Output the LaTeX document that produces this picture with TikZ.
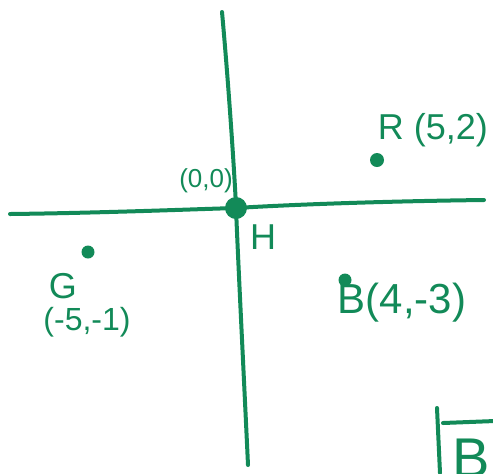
\documentclass[tikz,border=0pt]{standalone}
\usepackage{fontspec}
\setmainfont{Liberation Sans}
\definecolor{pen}{HTML}{128A58}
\begin{document}
\begin{tikzpicture}[x=0.5pt,y=-0.5pt,
  axis/.style={draw=pen,line width=2pt,line cap=round},
  dot/.style={circle,fill=pen,inner sep=0pt},
  lbl/.style={text=pen,inner sep=0pt,font=\fontsize{18}{20}\selectfont}]
\useasboundingbox (0,0) rectangle (493,473);
\clip (0,0) rectangle (493,473);
% axes
\coordinate (top) at (222,12);
\coordinate (bot) at (248,465);
\coordinate (left) at (10,214);
\coordinate (right) at (484,200);
\draw[axis] (top) .. controls (230,100) and (236,200) .. (236,208) .. controls (238,260) and (245,400) .. (bot);
\draw[axis] (left) .. controls (100,213) and (200,209) .. (236,208) .. controls (300,204) and (400,201) .. (right);
% origin
\node[dot,minimum size=11pt] (O) at (236,208) {};
\node[lbl,font=\fontsize{13}{14}\selectfont] (Olab) at (206,181) {(0,0)};
\node[lbl] (H) at (263,237) {H};
% R
\node[dot,minimum size=7pt] (R) at (377,160) {};
\node[lbl] (Rlab) at (433,130) {R (5,2)};
% G
\node[dot,minimum size=6.5pt] (G) at (88,252) {};
\node[lbl] (Glab) at (63,286) {G};
\node[lbl,font=\fontsize{16}{18}\selectfont] (Gco) at (87,322) {(-5,-1)};
% B
\node[dot,minimum size=6.5pt] (B) at (345,280) {};
\node[lbl,font=\fontsize{21}{22}\selectfont] (Blab) at (402,303) {B(4,-3)};
% corner fragment
\coordinate (v1) at (437,408);
\coordinate (v2) at (440,473);
\coordinate (h1) at (443,423);
\coordinate (h2) at (495,421);
\draw[axis] (v1) -- (v2);
\draw[axis] (h1) -- (h2);
\node[lbl,anchor=west,font=\fontsize{28}{30}\selectfont] (Bbig) at (452,458) {B};
\end{tikzpicture}
\end{document}
